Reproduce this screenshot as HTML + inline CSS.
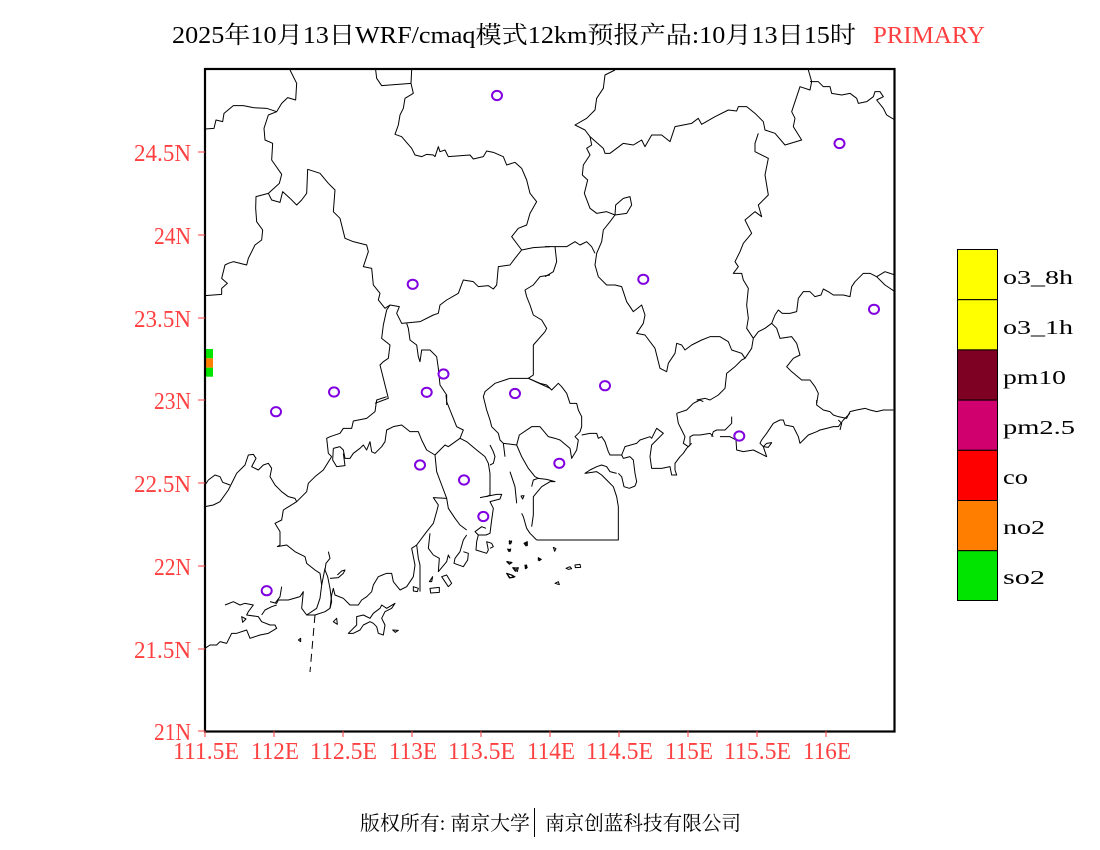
<!DOCTYPE html>
<html><head><meta charset="utf-8"><style>
html,body{margin:0;padding:0;background:#fff;width:1100px;height:850px;overflow:hidden}
svg{display:block}
.m polyline,.m polygon{fill:none;stroke:#000;stroke-width:1;vector-effect:non-scaling-stroke;stroke-linejoin:round}
.lab{font-family:"Liberation Serif","Noto Serif CJK SC",serif;fill:#ff4040;font-size:24px}
</style></head><body>
<svg width="1100" height="850" viewBox="0 0 1100 850" xmlns="http://www.w3.org/2000/svg">
<rect width="1100" height="850" fill="#fff"/>
<!-- title -->
<text x="172" y="43" font-family="'Liberation Serif','Noto Serif CJK SC',serif" font-size="24" fill="#000" textLength="684" lengthAdjust="spacingAndGlyphs">2025年10月13日WRF/cmaq模式12km预报产品:10月13日15时</text>
<text x="873" y="43" font-family="'Liberation Serif',serif" font-size="24" fill="#ff4040" textLength="112" lengthAdjust="spacingAndGlyphs">PRIMARY</text>

<!-- map lines zoom5 -->
<g class="m" transform="translate(200 65) scale(0.333333)">
<polyline points="270,15 290,55 287,105 263,98 245,115 230,140 200,130 160,128 130,122 100,122 72,145 68,170 48,165 42,190 15,192"/>
<polyline points="230,140 205,150 192,190 195,225 218,235 215,285 245,328 238,355 205,385 215,405 240,412 248,380 270,400 290,420 305,405 320,385 323,313 360,325 385,355 405,375 400,440 420,460 435,520 460,530 500,540 505,560 490,605 515,610 520,660 540,685 535,705 555,730 570,720 598,725 590,745 605,775 660,770 700,750 715,745 720,720 740,705 775,685 790,645 820,650 835,665 865,662 880,672 890,660 895,605 930,600 945,580 965,555 935,515 955,490 980,480 990,445 1010,410 990,385 980,345 965,310 945,292 920,300 910,275 880,262 860,258 850,275 820,282 810,270 745,275 735,255 720,260 715,245 705,275 700,270 680,268 665,275 645,270 635,250 622,235 605,215 585,208 595,180 600,150 610,130 615,100 640,85 633,55 635,15"/>
<polyline points="633,55 545,62 530,40 527,15"/>
<polyline points="205,385 168,395 167,430 170,470 188,495 185,525 165,540 155,560 145,580 140,600 100,590 85,595 75,600 65,640 82,655 65,670 65,688 15,692"/>
<polyline points="570,720 560,735 550,780 545,820 570,840 565,880 550,890 540,900 555,960 565,1000 525,1015"/>
<polyline points="620,775 625,790 630,825 650,840 655,875 660,890 665,855 690,855 710,875 715,910 720,960 740,990 740,1020"/>
<polyline points="965,555 1000,548 1050,545"/>
<polyline points="1050,630 1020,635 1000,660 975,675 980,695 990,720 1000,750 1025,765 1040,790 1035,800 1000,840 1000,880 1000,930 985,940"/>
<polyline points="985,940 1050,970"/>
</g>

<!-- zoom6 -->
<g class="m" transform="translate(545 65) scale(0.333333)">
<polyline points="210,15 180,30 175,70 155,100 150,135 125,160 90,180 120,195 135,215 140,240 125,250 135,270 115,300 112,330 128,345 118,385 135,430 155,445 185,440 210,450"/>
<polyline points="210,450 245,445 260,420 255,395 235,400 212,420 210,450"/>
<polyline points="210,450 195,470 175,495 170,530 155,565 150,600 160,635 185,660 210,660 230,665 245,710 265,740 290,720 300,750 295,775 275,805 300,810 330,850 345,910 365,920 370,895 390,865 395,835 410,840 420,855 440,840 470,825 495,815 525,815 550,830 560,855 590,865 600,880 620,850 625,820 605,790 610,760 605,720 610,670 595,645 590,625 565,625 580,605 570,590 585,560 595,535 620,505 610,485 600,465 630,440 650,455 640,420 670,390 660,330 670,280 630,260 630,235 640,205"/>
<polyline points="135,215 175,250 180,265 195,265 235,235 265,240 290,225 300,245 320,210 350,210 375,230 390,185 440,175 460,160 470,178 510,155 550,135 575,138 580,125 605,125 630,145 655,170 660,195 690,205 720,240 770,225 745,185 750,160 740,140 765,65 795,75 800,50 790,15"/>
<polyline points="795,50 820,50 835,65 855,65 860,85 890,90 915,85 935,100 940,115 965,110 985,95 990,80 1005,80 1015,95 995,105 1015,130 1025,150 1050,165"/>
<polyline points="0,545 30,545 65,545 90,530 105,540 125,530 140,545 150,565"/>
<polyline points="30,545 35,590 25,620 0,635"/>
<polyline points="1050,630 1020,620 995,635 975,625 955,625 930,650 920,665 915,695 895,690 865,690 850,680 835,672 828,690 810,695 795,680 775,680 760,700 755,740 735,745 712,745 700,735 690,750 680,775 660,790 640,800 625,820"/>
<polyline points="995,635 1020,660 1050,680"/>
<polyline points="680,775 695,790 705,820 740,815 755,835 765,870 745,880 725,905 740,920 770,945 795,945 810,965 820,985 815,1015"/>
<polyline points="455,1005 480,1000 495,1005 520,990 540,970 545,925 570,905 590,885 600,880"/>
</g>

<!-- zoom7 -->
<g class="m" transform="translate(200 395) scale(0.333333)">
<polyline points="560,5 530,15 525,50 500,70 460,78 455,100 430,100 420,115 390,125 380,130 385,175 395,185"/>
<polyline points="395,185 370,225 345,245 325,265 320,290 290,320 250,345 245,375 225,385 240,410 240,450 232,455 260,450 285,470 315,485 320,505 345,525 360,535 365,570 360,610 350,640 320,660 345,660 375,650 390,640 395,600 400,580 405,600 430,610 450,630 475,630 485,615 500,605 515,590 520,570 535,545 560,535 575,535 580,560 600,585 620,575 630,560 640,545 645,510 635,460 650,450 680,410 700,385 710,350 715,330 700,308 740,310"/>
<polyline points="400,160 420,155 430,165 435,190 450,190 460,175 480,160 490,150 500,165 510,140 515,170 525,175 545,155 555,140 560,105 580,95 605,90 630,110 655,110 665,135 680,165 705,180 710,230 725,270 740,310 745,340 765,370 780,390 800,405"/>
<polyline points="400,160 398,195 410,215 435,212 430,175"/>
<polyline points="705,180 735,150 745,155 780,130 800,140 830,165 855,185 865,205 870,235 870,300 860,305"/>
<polyline points="780,130 790,105 770,95 760,70 750,45 740,20 738,0"/>
<polyline points="870,150 880,170 885,185 880,205 870,210"/>
<polyline points="840,308 890,298 905,298 900,312 870,320 880,340 875,375 870,415 858,420 835,420 825,410 845,395 858,400"/>
<polyline points="800,420 790,435 780,470 765,490 762,505 790,515 803,495 805,475 790,470"/>
<polyline points="835,420 830,440 828,465 860,475 865,465 860,440 875,445 880,455 870,460"/>
<polyline points="690,415 685,460 700,480 718,490 715,530 740,500 745,480 750,490"/>
<polyline points="650,450 655,490 660,510 660,545 660,590"/>
<polygon points="640,575 655,580 652,590 640,588"/>
<polygon points="725,545 740,540 755,565 745,575"/>
<polygon points="690,580 718,577 718,592 692,594"/>
<polygon points="688,560 698,545 695,560"/>
<polygon points="928,440 935,438 932,447"/>
<polygon points="975,445 982,440 982,452"/>
<polygon points="925,465 932,462 930,470"/>
<polygon points="920,500 935,502 928,508"/>
<polygon points="942,520 955,518 952,530"/>
<polygon points="920,535 935,540 945,545 930,548"/>
<polygon points="975,512 980,510 980,520"/>
<polygon points="1015,488 1022,492 1015,496"/>
<polygon points="963,303 972,302 968,312"/>
<polyline points="15,335 40,330 60,320 85,285 100,255 110,235 135,210 145,180 160,178 168,190 155,215 175,225 190,210 205,205 215,220 210,245 225,270 245,290 265,305 285,310 290,320"/>
<polyline points="15,270 25,255 45,240 60,245 68,262 90,270"/>
<polyline points="385,470 390,490 378,505 375,525 383,545 390,580 395,620 390,640"/>
<polyline points="375,520 370,545 365,570"/>
<polyline points="390,550 415,548 430,535 435,525 425,528 412,540"/>
<polyline points="210,620 230,625 235,615 265,615 300,605 310,590 305,640 320,660"/>
<polyline points="225,625 240,605 245,575"/>
<polyline points="75,630 100,620 120,630 135,625 160,630 145,650 140,660 175,665 185,680 210,690 225,690 230,700 205,715 180,720 150,730 140,705 110,715 95,715 80,745 60,740 50,750 30,750 15,760"/>
<polyline points="185,660 195,645 215,635 230,630"/>
<polygon points="445,715 470,690 470,665 490,660 510,670 520,655 540,640 545,630 560,640 585,625 575,640 555,650 545,670 555,690 550,720 535,715 530,695 520,685 510,680 490,690 480,705 460,715"/>
<polygon points="400,680 410,670 412,688"/>
<polygon points="295,735 302,730 302,740"/>
<polygon points="578,705 595,706 586,712"/>
<polygon points="125,665 138,672 128,682"/>
</g>
<line x1="315" y1="615" x2="310" y2="672" stroke="#000" stroke-width="1" stroke-dasharray="8,5"/>

<!-- zoom8 -->
<g class="m" transform="translate(470 330) scale(0.333333)">
<polyline points="175,145 120,145 75,160 45,185 40,200 50,240 60,270 65,290 85,310 90,330 100,340 140,345 148,315 185,290 210,290 235,320 255,325 270,330 300,355 305,385 320,360 325,330 315,320 330,305 335,290 335,260 325,240 320,220 300,220 290,190 275,170 265,160 245,180 230,165 210,160 175,145"/>
<polyline points="335,315 360,310 380,310 385,325 395,320 405,335 410,350 415,365 420,375 455,375 460,385 480,380 490,390 495,430 500,455 495,468 478,475 462,470 455,440 445,430"/>
<polyline points="200,630 445,630 445,530 440,500 430,470 410,450 395,435 380,425 345,430 360,420 380,410 395,405 410,410 420,425 440,430"/>
<polyline points="200,630 180,610 170,595 160,560 155,550"/>
<polyline points="185,590 190,555 190,500 215,470 240,455 255,455 230,448 205,445 190,450 185,470"/>
<polyline points="140,345 155,380 175,415 195,440 205,445"/>
<polyline points="120,425 135,470 140,520"/>
<polyline points="100,340 105,380"/>
<polyline points="455,375 465,350 500,340 510,330 540,320 545,325 560,295 580,310 560,330 545,345 540,380 545,415 575,415 600,410 605,435 620,435 615,420 615,400 630,380 640,370 650,355 660,345 660,320 670,315 690,315 720,310 730,320"/>
<polyline points="620,250 625,280 635,300 645,320 640,340 655,350 665,340"/>
<polyline points="620,250 650,240 670,220 690,210 700,215"/>
<polyline points="1040,210 1040,225 1060,240 1080,245 1090,255 1105,260 1130,265 1140,245 1160,240 1185,235 1200,240 1220,245 1240,240 1270,240"/>
<polyline points="1140,250 1120,270 1105,290 1090,290 1070,295 1050,300 1040,305 1015,315 1000,330 990,340 985,320 975,300 970,290 945,285 940,270 930,270 910,280 890,310 875,330 870,340 880,350 890,380 870,370 850,360 820,365 800,360 798,330 780,320 750,320"/>
<polygon points="880,350 890,340 905,338 895,352"/>
<polyline points="785,260 785,280 775,290 765,300 740,300 730,305 725,320"/>
<polyline points="1105,270 1115,280 1110,300"/>
<polygon points="118,632 125,636 118,642"/>
<polygon points="162,640 170,636 168,648"/>
<polygon points="113,657 122,660 116,664"/>
<polygon points="250,652 258,656 254,664"/>
<polygon points="205,685 214,688 208,692"/>
<polygon points="112,695 126,698 118,702"/>
<polygon points="128,713 142,714 136,724"/>
<polygon points="110,730 124,735 132,742 118,744"/>
<polygon points="165,705 172,712 166,716"/>
<polygon points="288,715 300,710 305,716 295,718"/>
<polygon points="315,705 330,703 332,712 316,713"/>
<polygon points="255,760 265,755 268,764"/>
</g>

<!-- stations -->
<g fill="none" stroke="#8000e0" stroke-width="2">
<ellipse cx="497" cy="95.5" rx="5" ry="4.6"/>
<ellipse cx="839.5" cy="143.5" rx="5" ry="4.6"/>
<ellipse cx="643.3" cy="279.3" rx="5" ry="4.6"/>
<ellipse cx="412.7" cy="284.3" rx="5" ry="4.6"/>
<ellipse cx="874" cy="309.3" rx="5" ry="4.6"/>
<ellipse cx="443.5" cy="374" rx="5" ry="4.6"/>
<ellipse cx="334" cy="392" rx="5" ry="4.6"/>
<ellipse cx="426.7" cy="392.3" rx="5" ry="4.6"/>
<ellipse cx="515" cy="393.5" rx="5" ry="4.6"/>
<ellipse cx="605" cy="385.7" rx="5" ry="4.6"/>
<ellipse cx="276" cy="411.7" rx="5" ry="4.6"/>
<ellipse cx="739.3" cy="436" rx="5" ry="4.6"/>
<ellipse cx="420" cy="465" rx="5" ry="4.6"/>
<ellipse cx="559.3" cy="463.3" rx="5" ry="4.6"/>
<ellipse cx="464" cy="480" rx="5" ry="4.6"/>
<ellipse cx="483.3" cy="516.5" rx="5" ry="4.6"/>
<ellipse cx="266.7" cy="590.7" rx="5" ry="4.6"/>
</g>

<!-- left colored cells -->
<rect x="206" y="349" width="7" height="9.3" fill="#00e400"/>
<rect x="206" y="358.3" width="7" height="9.4" fill="#ff7e00"/>
<rect x="206" y="367.7" width="7" height="9" fill="#00e400"/>

<!-- frame -->
<rect x="205" y="69" width="689.5" height="662.5" fill="none" stroke="#000" stroke-width="2.2"/>

<!-- y ticks & labels -->
<g stroke="#ff4040" stroke-width="1">
<line x1="198" y1="152" x2="205" y2="152"/>
<line x1="198" y1="235" x2="205" y2="235"/>
<line x1="198" y1="318" x2="205" y2="318"/>
<line x1="198" y1="400" x2="205" y2="400"/>
<line x1="198" y1="483" x2="205" y2="483"/>
<line x1="198" y1="566" x2="205" y2="566"/>
<line x1="198" y1="649" x2="205" y2="649"/>
<line x1="198" y1="731" x2="205" y2="731"/>
</g>
<g class="lab" text-anchor="end">
<text x="191" y="161" textLength="57" lengthAdjust="spacingAndGlyphs">24.5N</text>
<text x="191" y="244" textLength="37" lengthAdjust="spacingAndGlyphs">24N</text>
<text x="191" y="327" textLength="57" lengthAdjust="spacingAndGlyphs">23.5N</text>
<text x="191" y="409" textLength="37" lengthAdjust="spacingAndGlyphs">23N</text>
<text x="191" y="492" textLength="57" lengthAdjust="spacingAndGlyphs">22.5N</text>
<text x="191" y="575" textLength="37" lengthAdjust="spacingAndGlyphs">22N</text>
<text x="191" y="658" textLength="57" lengthAdjust="spacingAndGlyphs">21.5N</text>
<text x="191" y="740" textLength="37" lengthAdjust="spacingAndGlyphs">21N</text>
</g>

<!-- x ticks & labels -->
<g stroke="#ff4040" stroke-width="1">
<line x1="205" y1="731" x2="205" y2="737"/>
<line x1="274" y1="731" x2="274" y2="737"/>
<line x1="343" y1="731" x2="343" y2="737"/>
<line x1="412" y1="731" x2="412" y2="737"/>
<line x1="481" y1="731" x2="481" y2="737"/>
<line x1="550" y1="731" x2="550" y2="737"/>
<line x1="619" y1="731" x2="619" y2="737"/>
<line x1="688" y1="731" x2="688" y2="737"/>
<line x1="757" y1="731" x2="757" y2="737"/>
<line x1="826" y1="731" x2="826" y2="737"/>
</g>
<g class="lab">
<text x="173" y="759" textLength="66" lengthAdjust="spacingAndGlyphs">111.5E</text>
<text x="251" y="759" textLength="48" lengthAdjust="spacingAndGlyphs">112E</text>
<text x="310" y="759" textLength="67" lengthAdjust="spacingAndGlyphs">112.5E</text>
<text x="389" y="759" textLength="48" lengthAdjust="spacingAndGlyphs">113E</text>
<text x="448" y="759" textLength="67" lengthAdjust="spacingAndGlyphs">113.5E</text>
<text x="527" y="759" textLength="48" lengthAdjust="spacingAndGlyphs">114E</text>
<text x="586" y="759" textLength="67" lengthAdjust="spacingAndGlyphs">114.5E</text>
<text x="665" y="759" textLength="48" lengthAdjust="spacingAndGlyphs">115E</text>
<text x="724" y="759" textLength="67" lengthAdjust="spacingAndGlyphs">115.5E</text>
<text x="803" y="759" textLength="48" lengthAdjust="spacingAndGlyphs">116E</text>
</g>

<!-- legend -->
<g stroke="#000" stroke-width="1">
<rect x="957.5" y="249.5" width="40" height="50.2" fill="#ffff00"/>
<rect x="957.5" y="299.7" width="40" height="50.2" fill="#ffff00"/>
<rect x="957.5" y="349.9" width="40" height="50.2" fill="#7e0023"/>
<rect x="957.5" y="400.1" width="40" height="50.2" fill="#d0006e"/>
<rect x="957.5" y="450.3" width="40" height="50.2" fill="#ff0000"/>
<rect x="957.5" y="500.5" width="40" height="50.2" fill="#ff7e00"/>
<rect x="957.5" y="550.7" width="40" height="49.8" fill="#00e400"/>
</g>
<g font-family="'Liberation Serif',serif" font-size="20" fill="#000">
<text x="1003" y="284" textLength="70" lengthAdjust="spacingAndGlyphs">o3_8h</text>
<text x="1003" y="334" textLength="70" lengthAdjust="spacingAndGlyphs">o3_1h</text>
<text x="1003" y="384" textLength="63" lengthAdjust="spacingAndGlyphs">pm10</text>
<text x="1003" y="434" textLength="72" lengthAdjust="spacingAndGlyphs">pm2.5</text>
<text x="1003" y="484" textLength="25" lengthAdjust="spacingAndGlyphs">co</text>
<text x="1003" y="534" textLength="42" lengthAdjust="spacingAndGlyphs">no2</text>
<text x="1003" y="584" textLength="42" lengthAdjust="spacingAndGlyphs">so2</text>
</g>

<!-- footer -->
<text x="360" y="830" font-family="'Liberation Serif','Noto Serif CJK SC',serif" font-size="20" fill="#000" textLength="170" lengthAdjust="spacingAndGlyphs">版权所有: 南京大学</text>
<line x1="534.5" y1="808" x2="534.5" y2="837" stroke="#000" stroke-width="1"/>
<text x="545" y="830" font-family="'Liberation Serif','Noto Serif CJK SC',serif" font-size="20" fill="#000" textLength="196" lengthAdjust="spacingAndGlyphs">南京创蓝科技有限公司</text>
</svg>
</body></html>
